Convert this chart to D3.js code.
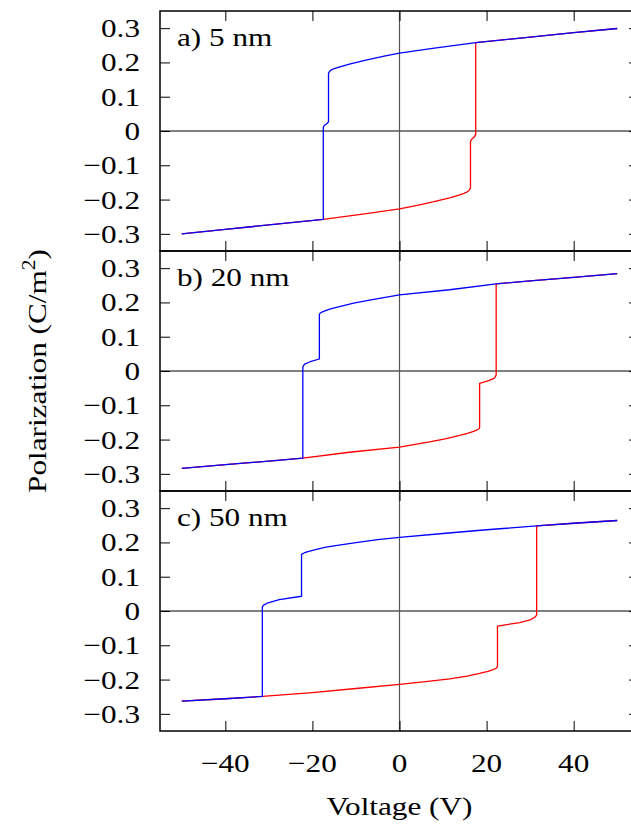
<!DOCTYPE html>
<html>
<head>
<meta charset="utf-8">
<script src="https://cdn.jsdelivr.net/npm/d3@7"></script>
<style>
  html, body { margin: 0; padding: 0; background: #fff; }
  svg { display: block; }
</style>
</head>
<body>
<div id="chart"></div>
<script>
// Tick values and panel labels
const voltageTicks = [-40, -20, 0, 20, 40]
const polarizationTicks = [-0.3, -0.2, -0.1, 0, 0.1, 0.2, 0.3]
const panelLabels = ["a) 5 nm", "b) 20 nm", "c) 50 nm"]

// [voltage (V), polarization (C/m^2)]
// red: sweep up from -50 V, blue: sweep down from +50 V
const sweepUp5 = [
  [-50, -0.3], [-40, -0.287], [-30, -0.274], [-17.5, -0.258], [-7.6, -0.241], [0, -0.227],
  [3.8, -0.2175], [7.7, -0.207], [11.5, -0.195], [13.5, -0.188], [14.8, -0.182],
  [15.5, -0.178], [15.9, -0.174], [16.1, -0.171], [16.3, -0.166],
  [16.3, -0.03], [16.6, -0.024], [17.2, -0.017], [17.5, -0.01],
  [17.5, 0.258], [30, 0.274], [40, 0.287], [50, 0.299],
]
const sweepDown5 = [
  [50, 0.299], [40, 0.287], [30, 0.274], [17.5, 0.258], [7.6, 0.241], [0, 0.227],
  [-3.8, 0.2175], [-7.7, 0.207], [-11.5, 0.195], [-13.5, 0.188], [-14.8, 0.183],
  [-15.5, 0.179], [-15.9, 0.176], [-16.1, 0.173], [-16.3, 0.169],
  [-16.3, 0.027], [-16.7, 0.021], [-17.3, 0.016], [-17.5, 0.01],
  [-17.5, -0.258], [-30, -0.274], [-40, -0.287], [-50, -0.3],
]
const sweepUp20 = [
  [-50, -0.284], [-40, -0.273], [-30, -0.263], [-22.2, -0.254], [-11.5, -0.237], [0, -0.222],
  [6.9, -0.207], [10.5, -0.198], [13.8, -0.188], [15.8, -0.181], [17, -0.176],
  [17.8, -0.172], [18.2, -0.169], [18.4, -0.165],
  [18.4, -0.036], [20.5, -0.028], [21.8, -0.021], [22.2, -0.012],
  [22.2, 0.254], [30, 0.263], [40, 0.273], [50, 0.284],
]
const sweepDown20 = [
  [50, 0.284], [40, 0.273], [30, 0.263], [22.2, 0.254], [11.5, 0.237], [0, 0.222],
  [-6.9, 0.207], [-10.5, 0.198], [-13.8, 0.188], [-15.8, 0.181], [-17, 0.176],
  [-17.8, 0.172], [-18.2, 0.169], [-18.4, 0.165],
  [-18.4, 0.035], [-20.5, 0.027], [-21.8, 0.02], [-22.2, 0.012],
  [-22.2, -0.254], [-30, -0.263], [-40, -0.273], [-50, -0.284],
]
const sweepUp50 = [
  [-50, -0.263], [-40, -0.256], [-31.5, -0.249], [-20, -0.238], [-10, -0.226], [0, -0.214],
  [6, -0.206], [11.5, -0.198], [15.5, -0.19], [18.4, -0.182], [20.3, -0.176],
  [21.5, -0.171], [22.2, -0.167], [22.5, -0.162],
  [22.5, -0.044], [27.6, -0.034], [30.2, -0.025], [31.2, -0.017], [31.5, -0.011],
  [31.5, 0.248], [40, 0.256], [50, 0.264],
]
const sweepDown50 = [
  [50, 0.264], [40, 0.256], [31.5, 0.248], [20, 0.237], [10, 0.226], [0, 0.215],
  [-5, 0.208], [-9.2, 0.201], [-13.5, 0.193], [-16.9, 0.186], [-19.3, 0.179],
  [-20.8, 0.174], [-21.8, 0.17], [-22.5, 0.165],
  [-22.5, 0.043], [-27.6, 0.033], [-30.2, 0.024], [-31.2, 0.017], [-31.5, 0.012],
  [-31.5, -0.249], [-40, -0.256], [-50, -0.263],
]

const panels = [
  {label: panelLabels[0], up: sweepUp5, down: sweepDown5},
  {label: panelLabels[1], up: sweepUp20, down: sweepDown20},
  {label: panelLabels[2], up: sweepUp50, down: sweepDown50},
]

const width = 631
const height = 824
const panelTop = 11
const panelH = 240
const FONT = "Liberation Serif"
const STRETCH = 1.2 // the original type is set wider than Times

const svg = d3.select("#chart").append("svg")
  .attr("width", width)
  .attr("height", height)

const x = d3.scaleLinear().domain([-55, 55]).range([160, 639])
const fmtP = (d) => (d === 0 ? "0" : d3.format(".1f")(d))

const line = d3.line().x((d) => x(d[0]))

// text placed at (tx, ty), stretched horizontally
const label = (sel, tx, ty, anchor) =>
  sel.attr("transform", (d) => `translate(${typeof tx === "function" ? tx(d) : tx},${typeof ty === "function" ? ty(d) : ty}) scale(${STRETCH},1)`)
    .attr("text-anchor", anchor)
    .attr("font-family", FONT)
    .attr("font-size", 26)

panels.forEach((p, i) => {
  const top = panelTop + i * panelH
  const y = d3.scaleLinear().domain([-0.35, 0.35]).range([top + panelH, top])
  const g = svg.append("g")

  const clipId = `clip-${i}`
  svg.append("clipPath").attr("id", clipId)
    .append("rect")
    .attr("x", x.range()[0]).attr("y", top)
    .attr("width", x.range()[1] - x.range()[0]).attr("height", panelH)

  // zero lines
  g.append("line")
    .attr("x1", x.range()[0]).attr("x2", x.range()[1])
    .attr("y1", y(0)).attr("y2", y(0))
    .attr("stroke", "#000").attr("stroke-width", 1)
  g.append("line")
    .attr("x1", x(0)).attr("x2", x(0))
    .attr("y1", top).attr("y2", top + panelH)
    .attr("stroke", "#555").attr("stroke-width", 1.2)

  // inward ticks on all sides
  const tickStyle = (gg) => {
    gg.select(".domain").remove()
    gg.selectAll(".tick line").attr("stroke", "#000").attr("stroke-width", 1)
    gg.selectAll("text").remove()
  }
  g.append("g").attr("transform", `translate(0,${top + panelH})`)
    .call(d3.axisBottom(x).tickValues(voltageTicks).tickSizeInner(-10).tickSizeOuter(0))
    .call(tickStyle)
  g.append("g").attr("transform", `translate(0,${top})`)
    .call(d3.axisTop(x).tickValues(voltageTicks).tickSizeInner(-10).tickSizeOuter(0))
    .call(tickStyle)
  g.append("g").attr("transform", `translate(${x.range()[0]},0)`)
    .call(d3.axisLeft(y).tickValues(polarizationTicks).tickSizeInner(-10).tickSizeOuter(0))
    .call(tickStyle)
  g.append("g").attr("transform", `translate(${x.range()[1]},0)`)
    .call(d3.axisRight(y).tickValues(polarizationTicks).tickSizeInner(-10).tickSizeOuter(0))
    .call(tickStyle)

  // y tick labels
  g.append("g").selectAll("text")
    .data(polarizationTicks)
    .join("text")
    .call(label, 140, (d) => y(d) + 9, "end")
    .text(fmtP)

  // curves
  const lineY = line.y((d) => y(d[1]))
  const curves = g.append("g").attr("clip-path", `url(#${clipId})`)
  curves.append("path")
    .attr("d", lineY(p.up))
    .attr("fill", "none").attr("stroke", "#ff0000").attr("stroke-width", 1.3)
    .attr("stroke-linejoin", "round")
  curves.append("path")
    .attr("d", lineY(p.down))
    .attr("fill", "none").attr("stroke", "#0000ff").attr("stroke-width", 1.3)
    .attr("stroke-linejoin", "round")

  // frame
  g.append("rect")
    .attr("x", x.range()[0]).attr("y", top)
    .attr("width", x.range()[1] - x.range()[0]).attr("height", panelH)
    .attr("fill", "none").attr("stroke", "#000").attr("stroke-width", 1.5)

  g.append("text")
    .call(label, 177, top + 35, "start")
    .text(p.label)
})

// x tick labels under the last panel
const bottom = panelTop + panels.length * panelH
svg.append("g").selectAll("text")
  .data(voltageTicks)
  .join("text")
  .call(label, (d) => x(d), bottom + 41, "middle")
  .text((d) => d3.format("d")(d))

svg.append("text")
  .call(label, x(0), 815, "middle")
  .text("Voltage (V)")

const yl = svg.append("text")
  .attr("transform", `translate(46,${panelTop + panels.length * panelH / 2}) rotate(-90) scale(${STRETCH},1)`)
  .attr("text-anchor", "middle")
  .attr("font-family", FONT)
  .attr("font-size", 26)
yl.append("tspan").text("Polarization (C/m")
yl.append("tspan").attr("font-size", 18).attr("dy", -11).text("2")
yl.append("tspan").attr("dy", 11).text(")")
</script>
</body>
</html>
